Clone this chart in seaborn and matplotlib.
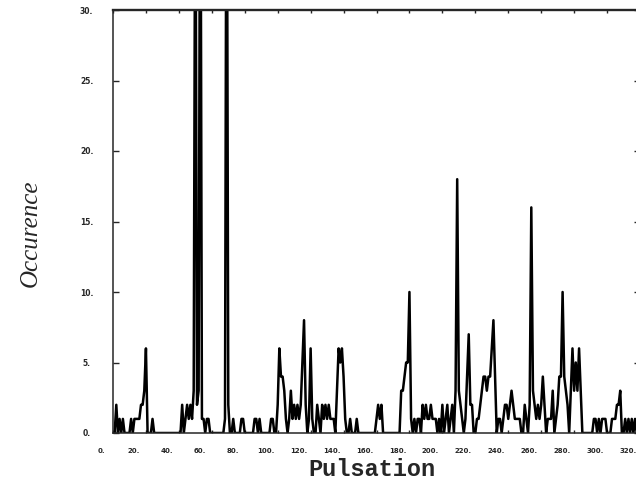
import numpy as np
import pandas as pd
import matplotlib
matplotlib.use("Agg")
import matplotlib.pyplot as plt
import matplotlib.transforms as mtransforms
import seaborn as sns

# counts, one value per pulsation step (0..320)
pulsation = np.arange(0, 321)
occurence = [
    0, 0, 2, 0, 1, 0, 1, 0, 0, 0, 0, 1, 0, 1, 1, 1, 1, 2, 2, 3,          # 0-19
    6, 0, 0, 0, 1, 0, 0, 0, 0, 0, 0, 0, 0, 0, 0, 0, 0, 0, 0, 0,          # 20-39
    0, 0, 2, 0, 1, 2, 1, 2, 1, 3, 45, 2, 3, 50, 1, 1, 0, 1, 1, 0,        # 40-59
    0, 0, 0, 0, 0, 0, 0, 0, 1, 50, 2, 0, 0, 1, 0, 0, 0, 0, 1, 1,         # 60-79
    0, 0, 0, 0, 0, 0, 1, 1, 0, 1, 0, 0, 0, 0, 0, 0, 1, 1, 0, 0,          # 80-99
    2, 6, 4, 4, 3, 1, 0, 1, 3, 1, 2, 1, 2, 1, 2, 5, 8, 2, 0, 1,          # 100-119
    6, 1, 0, 0, 2, 1, 0, 2, 1, 2, 1, 2, 1, 1, 1, 0, 3, 6, 5, 6,          # 120-139
    4, 1, 0, 0, 1, 0, 0, 0, 1, 0, 0, 0, 0, 0, 0, 0, 0, 0, 0, 0,          # 140-159
    1, 2, 1, 2, 0, 0, 0, 0, 0, 0, 0, 0, 0, 0, 0, 3, 3, 4, 5, 5,          # 160-179
    10, 1, 0, 1, 0, 1, 1, 0, 2, 1, 2, 1, 1, 2, 1, 1, 1, 0, 1, 0,         # 180-199
    2, 0, 1, 2, 0, 1, 2, 0, 3, 18, 3, 2, 1, 0, 1, 4, 7, 2, 2, 0,         # 200-219
    0, 1, 1, 2, 3, 4, 4, 3, 4, 4, 6, 8, 4, 0, 1, 1, 0, 1, 2, 2,          # 220-239
    1, 2, 3, 2, 1, 1, 1, 1, 0, 0, 2, 1, 0, 2, 16, 3, 2, 1, 2, 1,         # 240-259
    2, 4, 2, 0, 1, 1, 1, 3, 0, 1, 2, 4, 4, 10, 4, 3, 2, 0, 3, 6,         # 260-279
    3, 5, 3, 6, 3, 0, 0, 0, 0, 0, 0, 0, 1, 1, 0, 1, 0, 1, 1, 1,          # 280-299
    0, 0, 0, 1, 1, 1, 2, 2, 3, 0, 0, 1, 0, 1, 0, 1, 0, 1, 0, 0, 0,       # 300-320
]
x_ticks = np.arange(0, 321, 20)
y_ticks = np.arange(0, 31, 5)
x_labels = [f"{t}." for t in x_ticks]
y_labels = [f"{t}." for t in y_ticks]

df = pd.DataFrame({"Pulsation": pulsation, "Occurence": occurence})

sns.set_style("ticks")
plt.rcParams["font.family"] = ["DejaVu Sans"]

fig = plt.figure(figsize=(6.36, 4.82), dpi=100)
ax = fig.add_axes([113 / 636, 49 / 482, 527 / 636, 423 / 482])
sns.lineplot(data=df, x="Pulsation", y="Occurence", color="black",
             linewidth=1.8, ax=ax)

ax.set_xlim(0, 320)
ax.set_ylim(0, 30)
ax.set_xticks(x_ticks, x_labels)
ax.set_yticks(y_ticks, y_labels)
ax.tick_params(axis="x", direction="in", top=True, bottom=True, length=2.5,
               width=1.0, labelsize=5, pad=11)
ax.tick_params(axis="y", direction="in", left=True, right=True, length=4.5,
               width=1.0, labelsize=5.5, pad=19)

# the old plotter put x labels a little left of their ticks
shift = mtransforms.ScaledTranslation(-12 / 100, 0, fig.dpi_scale_trans)
for lab in ax.get_xticklabels():
    lab.set_fontweight("bold")
    lab.set_transform(lab.get_transform() + shift)
for lab in ax.get_yticklabels():
    lab.set_fontweight("bold")
    lab.set_horizontalalignment("center")

for side in ["left", "right", "bottom"]:
    ax.spines[side].set_linewidth(1.1)
ax.spines["top"].set_linewidth(1.7)

ax.set_xlabel("Pulsation", family="Liberation Mono", fontweight="bold",
              fontsize=17)
ax.xaxis.set_label_coords(0.491, -0.058)
ax.set_ylabel("Occurence", family="Liberation Serif", style="italic",
              fontsize=18)
ax.yaxis.label.set_verticalalignment("center")
ax.yaxis.set_label_coords(-0.1556, 0.473)

plt.savefig("out.png", dpi=100)
